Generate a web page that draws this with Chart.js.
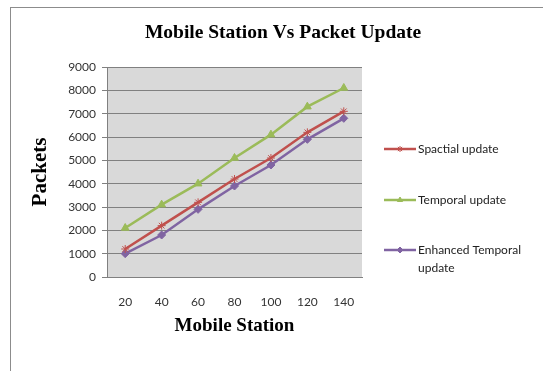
<!DOCTYPE html>
<html>
<head>
<meta charset="utf-8">
<script src="https://cdn.jsdelivr.net/npm/chart.js@4"></script>
<style>
  html, body { margin: 0; padding: 0; background: #fff; }
  #wrap { width: 543px; height: 371px; }
</style>
</head>
<body>
<div id="wrap"><canvas id="grafico"></canvas></div>
<script>
const estaciones = ["20", "40", "60", "80", "100", "120", "140"];
const spactial = [1200, 2200, 3200, 4200, 5100, 6200, 7100];
const temporal = [2100, 3100, 4000, 5100, 6100, 7300, 8100];
const enhanced = [1000, 1800, 2900, 3900, 4800, 5900, 6800];
const yTicks = [0, 1000, 2000, 3000, 4000, 5000, 6000, 7000, 8000, 9000];
const titulo = "Mobile Station Vs Packet Update";

const fuenteTexto = "Lato, 'Open Sans', sans-serif";
const fuenteTitulo = "'Liberation Serif', 'DejaVu Serif', serif";

// fondo gris del area, marco exterior y titulo
const fondo = {
  id: "fondo",
  beforeDraw(chart) {
    const { ctx, chartArea } = chart;
    ctx.save();
    ctx.fillStyle = "#d9d9d9";
    ctx.fillRect(chartArea.left, chartArea.top, chartArea.right - chartArea.left, chartArea.bottom - chartArea.top);
    ctx.strokeStyle = "#8c8c8c";
    ctx.lineWidth = 1;
    ctx.strokeRect(10.5, 7.5, 700, 500);
    ctx.fillStyle = "#000";
    ctx.font = "bold 19.5px " + fuenteTitulo;
    ctx.textAlign = "center";
    ctx.textBaseline = "middle";
    ctx.fillText(titulo, 283, 33);
    ctx.restore();
  },
};

// leyenda a la derecha, dibujada a mano
const leyenda = {
  id: "leyenda",
  afterDraw(chart) {
    const { ctx } = chart;
    const items = [
      { ds: 0, y: 149, text: ["Spactial update"] },
      { ds: 1, y: 200, text: ["Temporal update"] },
      { ds: 2, y: 250, text: ["Enhanced Temporal", "update"] },
    ];
    ctx.save();
    items.forEach((it) => {
      const ds = chart.data.datasets[it.ds];
      ctx.strokeStyle = ds.borderColor;
      ctx.lineWidth = 2.5;
      ctx.beginPath();
      ctx.moveTo(384, it.y);
      ctx.lineTo(416, it.y);
      ctx.stroke();
      ctx.fillStyle = ds.borderColor;
      ctx.lineWidth = 1;
      Chart.helpers.drawPoint(ctx, {
        pointStyle: ds.pointStyle,
        radius: 3,
        borderWidth: 1,
      }, 400, it.y);
      ctx.fillStyle = "#222";
      ctx.font = "12px " + fuenteTexto;
      ctx.textBaseline = "middle";
      ctx.textAlign = "left";
      it.text.forEach((t, i) => ctx.fillText(t, 418, it.y + i * 18));
    });
    ctx.restore();
  },
};

const serie = (label, data, color, estilo, radio) => ({
  label: label,
  data: data,
  borderColor: color,
  backgroundColor: color,
  borderWidth: 2.5,
  pointStyle: estilo,
  pointRadius: radio,
  pointBorderWidth: 1,
  tension: 0,
  fill: false,
});

new Chart(document.getElementById("grafico"), {
  type: "line",
  data: {
    labels: estaciones,
    datasets: [
      serie("Spactial update", spactial, "#c0504d", "star", 4),
      serie("Temporal update", temporal, "#9bbb59", "triangle", 4.5),
      serie("Enhanced Temporal update", enhanced, "#8064a2", "rectRot", 4),
    ],
  },
  options: {
    responsive: true,
    maintainAspectRatio: false,
    animation: false,
    layout: { padding: { left: 10, right: 181, top: 67, bottom: 34 } },
    plugins: {
      legend: { display: false },
      tooltip: { enabled: false },
      title: { display: false },
    },
    scales: {
      x: {
        offset: true,
        afterFit: (s) => { s.height = 60; },
        grid: { display: false, drawTicks: false },
        border: { color: "#808080" },
        ticks: { color: "#333", font: { family: fuenteTexto, size: 12 }, padding: 18 },
        title: {
          display: true,
          text: "Mobile Station",
          color: "#000",
          font: { family: fuenteTitulo, size: 19, weight: "bold" },
          padding: { top: 0, bottom: 0 },
        },
      },
      y: {
        min: 0,
        max: 9000,
        afterFit: (s) => { s.width = 97; },
        afterBuildTicks: (s) => { s.ticks = yTicks.map((v) => ({ value: v })); },
        grid: { color: "#808080", tickLength: 5, tickColor: "#808080" },
        border: { color: "#808080" },
        ticks: {
          color: "#333",
          font: { family: fuenteTexto, size: 12 },
          padding: 6,
          callback: (v) => String(v),
        },
        title: {
          display: true,
          text: "Packets",
          color: "#000",
          font: { family: fuenteTitulo, size: 21, weight: "bold" },
          padding: { top: 18, bottom: 0 },
        },
      },
    },
  },
  plugins: [fondo, leyenda],
});
</script>
</body>
</html>
